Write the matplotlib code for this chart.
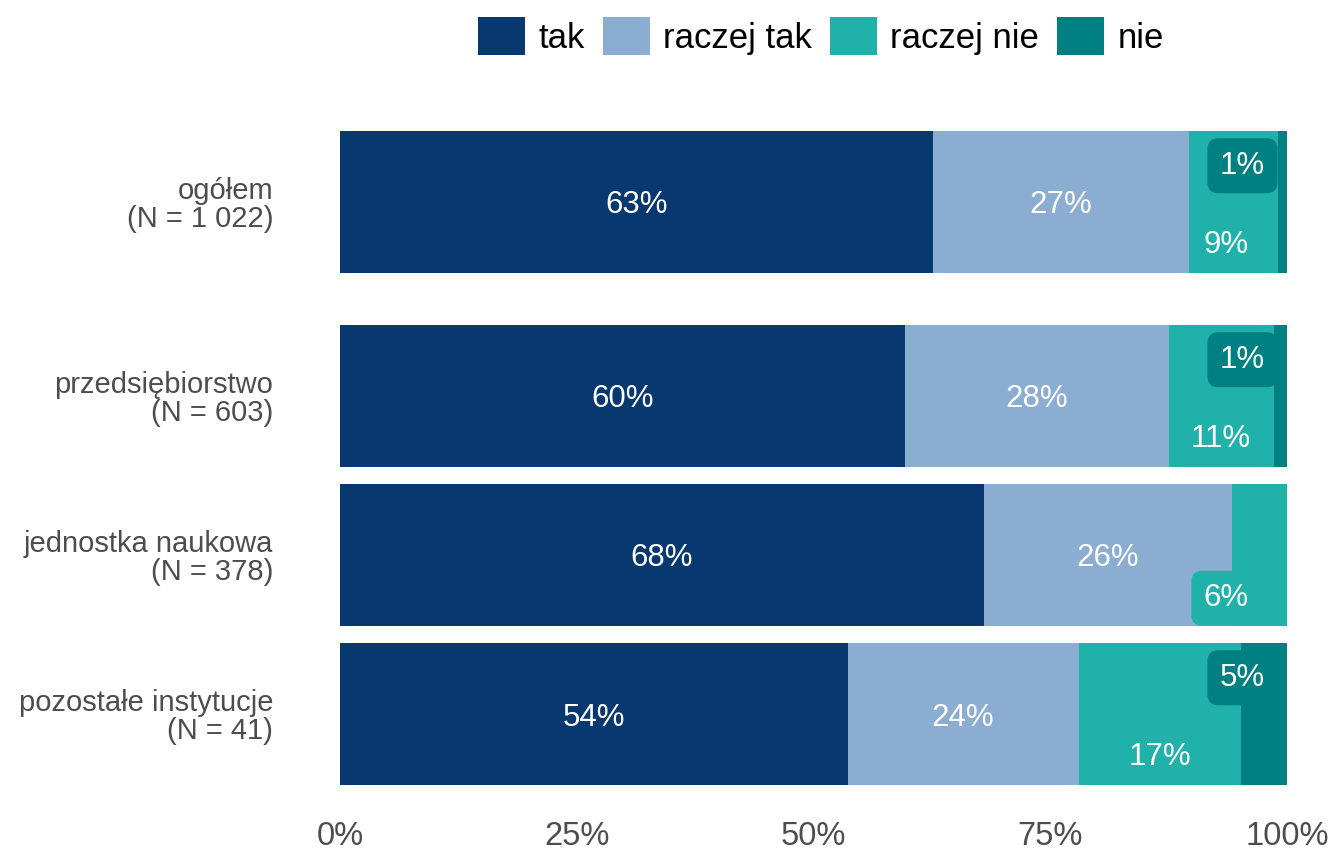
import matplotlib.pyplot as plt
from matplotlib.patches import Patch

plt.rcParams['font.family'] = ['Liberation Sans', 'DejaVu Sans']

categories = ['ogółem\n(N = 1 022)', 'przedsiębiorstwo\n(N = 603)',
              'jednostka naukowa\n(N = 378)', 'pozostałe instytucje\n(N = 41)']
answers = ['tak', 'raczej tak', 'raczej nie', 'nie']
tak = [62.6, 59.7, 68.0, 53.6]
raczej_tak = [27.0, 27.8, 26.2, 24.4]
raczej_nie = [9.4, 11.1, 5.8, 17.1]
nie = [1.0, 1.4, 0.0, 4.9]
ticks = [0, 25, 50, 75, 100]
tick_labels = ['0%', '25%', '50%', '75%', '100%']

colors = ['#083870', '#8AADD1', '#20B2AA', '#008080']
series = [tak, raczej_tak, raczej_nie, nie]

# first row sits apart from the others
ypos = [-1.22, 0, 1, 2]
bar_h = 0.893

fig = plt.figure(figsize=(13.38, 8.56), dpi=100)
ax = fig.add_axes([340 / 1338, 1 - 785 / 856, 947 / 1338, 654 / 856])

left = [0.0] * len(categories)
for k, (vals, col) in enumerate(zip(series, colors)):
    ax.barh(ypos, vals, left=left, height=bar_h, color=col, linewidth=0)
    for i, v in enumerate(vals):
        if v <= 0:
            continue
        center = left[i] + v / 2
        lab = '%d%%' % round(v)
        if k < 2:
            ax.text(center, ypos[i], lab, ha='center', va='center_baseline',
                    color='white', fontsize=22.5)
        else:
            # small segments: label pushed to bar edge, on a rounded box
            if k == 2:
                x = min(center, 93.6)
                y = ypos[i] + 0.25
            else:
                x = min(center, 95.3)
                y = ypos[i] - 0.25
            ax.text(x, y, lab, ha='center', va='center_baseline', color='white',
                    fontsize=22.5, zorder=5,
                    bbox=dict(boxstyle='round,pad=0.4,rounding_size=0.35',
                              facecolor=col, edgecolor='none'))
        left[i] += v

ax.set_xlim(0, 100)
ax.set_ylim(2 + bar_h / 2, -1.22 - bar_h / 2)
ax.set_xticks(ticks)
ax.set_xticklabels(tick_labels)
ax.set_yticks(ypos)
ax.set_yticklabels(categories, linespacing=1.0)
ax.tick_params(axis='x', length=0, pad=26, labelsize=23.5, labelcolor='#4D4D4D')
ax.tick_params(axis='y', length=0, pad=48, labelsize=21, labelcolor='#4D4D4D')
for s in ax.spines.values():
    s.set_visible(False)

handles = [Patch(facecolor=c, edgecolor='none', label=a) for a, c in zip(answers, colors)]
fig.legend(handles=handles, loc='center', bbox_to_anchor=(821 / 1338, 1 - 36 / 856),
           ncol=4, frameon=False, fontsize=25, handlelength=1.35, handleheight=1.35,
           handletextpad=0.4, columnspacing=0.5, borderaxespad=0)

fig.savefig('out.png', dpi=100, facecolor='white')
